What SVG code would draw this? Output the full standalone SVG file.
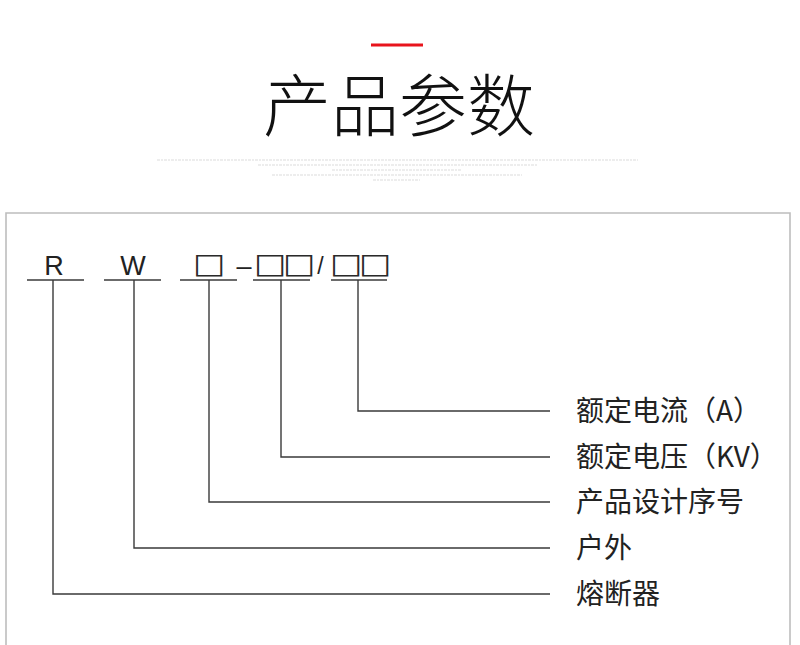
<svg xmlns="http://www.w3.org/2000/svg" width="800" height="645" viewBox="0 0 800 645">
<style>
.title{font-family:"Noto Sans CJK SC","Noto Sans",sans-serif;font-size:68px;font-weight:200;fill:#111;}
.code{font-family:"Liberation Sans",Arial,sans-serif;font-size:27px;fill:#222;}
.sq{font-family:"DejaVu Sans",sans-serif;font-size:34px;fill:#2a2a2a;letter-spacing:-3px;}
.lbl{font-family:"Noto Sans CJK SC","Noto Sans",sans-serif;font-size:28px;fill:#222;}
.ln{stroke:#3a3a3a;stroke-width:1.4;fill:none;}
.faint{stroke:#dcdcdc;stroke-width:1.2;stroke-dasharray:3 1 2 1;}
</style>
<rect width="800" height="645" fill="#fff"/>
<g id="header">
<line x1="371" y1="45" x2="423" y2="45" stroke="#e8141c" stroke-width="3"/>
<text class="title" x="399" y="131" text-anchor="middle">产品参数</text>
<line class="faint" x1="157" y1="160" x2="638" y2="160"/>
<line class="faint" x1="258" y1="165" x2="537" y2="165"/>
<line class="faint" x1="332" y1="170" x2="462" y2="170"/>
<line class="faint" x1="272" y1="175" x2="522" y2="175"/>
<line class="faint" x1="373" y1="180" x2="420" y2="180"/>
</g>
<path id="frame" d="M6,646 V213 H790 V646" fill="none" stroke="#bdbdbd" stroke-width="1.6"/>
<g id="code">
<text class="code" x="54" y="275" text-anchor="middle">R</text>
<text class="code" x="133" y="275" text-anchor="middle">W</text>
<g transform="translate(197,272.5) scale(1,0.82)"><text class="sq" x="-4" y="0">□</text></g>
<text class="code" x="244" y="275" text-anchor="middle">–</text>
<g transform="translate(258,272.5) scale(1,0.82)"><text class="sq" x="-4" y="0">□□</text></g>
<text class="code" x="320.5" y="274" text-anchor="middle" style="font-size:23px">/</text>
<g transform="translate(334,272.5) scale(1,0.82)"><text class="sq" x="-4" y="0">□□</text></g>
</g>
<g id="connectors" class="ln">
<line x1="27" y1="280" x2="84" y2="280"/>
<line x1="104" y1="280" x2="161" y2="280"/>
<line x1="180" y1="280" x2="237" y2="280"/>
<line x1="253" y1="280" x2="310" y2="280"/>
<line x1="331" y1="280" x2="387" y2="280"/>
<polyline points="358,280 358,411 550,411"/>
<polyline points="281,280 281,457 550,457"/>
<polyline points="209,280 209,502 550,502"/>
<polyline points="134,280 134,548 550,548"/>
<polyline points="53,280 53,594 550,594"/>
</g>
<g id="labels">
<text id="n-current" class="lbl" x="576" y="421">额定电流（A）</text>
<text id="n-voltage" class="lbl" x="576" y="467">额定电压（KV）</text>
<text id="n-design" class="lbl" x="576" y="512">产品设计序号</text>
<text id="n-outdoor" class="lbl" x="576" y="558">户外</text>
<text id="n-fuse" class="lbl" x="576" y="604">熔断器</text>
</g>
</svg>
